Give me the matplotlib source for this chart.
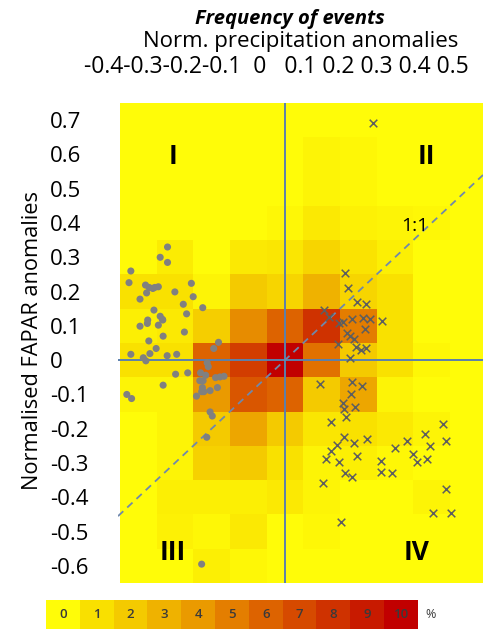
import numpy as np
import matplotlib
matplotlib.use("Agg")
import matplotlib.pyplot as plt
from matplotlib.colors import LinearSegmentedColormap, ListedColormap

plt.rcParams["font.family"] = ["Open Sans", "DejaVu Sans"]

# heatmap: frequency of events (%) per 0.1 x 0.1 bin
x_centers = [-0.4, -0.3, -0.2, -0.1, 0.0, 0.1, 0.2, 0.3, 0.4, 0.5]
y_centers = [0.7, 0.6, 0.5, 0.4, 0.3, 0.2, 0.1, 0.0, -0.1, -0.2, -0.3, -0.4, -0.5, -0.6]
freq = [
    [0.0, 0.0, 0.0, 0.0, 0.0, 0.0, 0.0, 0.0, 0.0, 0.0],
    [0.0, 0.0, 0.0, 0.0, 0.0, 0.3, 0.2, 0.0, 0.0, 0.0],
    [0.0, 0.0, 0.0, 0.0, 0.0, 0.3, 0.2, 0.0, 0.0, 0.0],
    [0.0, 0.0, 0.0, 0.0, 0.2, 0.7, 0.4, 0.3, 0.2, 0.0],
    [0.1, 0.6, 0.0, 0.7, 0.8, 1.5, 0.9, 0.5, 0.0, 0.0],
    [1.0, 1.0, 0.3, 2.0, 1.5, 3.0, 1.5, 1.0, 0.0, 0.0],
    [0.5, 0.7, 1.8, 4.5, 6.0, 8.0, 5.0, 1.0, 0.0, 0.0],
    [1.0, 1.0, 6.0, 7.5, 10.0, 5.5, 2.0, 1.0, 0.2, 0.0],
    [0.3, 0.3, 4.0, 6.5, 6.0, 2.0, 3.5, 0.3, 0.0, 0.0],
    [0.0, 0.3, 2.0, 3.5, 2.0, 0.8, 1.0, 0.7, 0.3, 0.0],
    [0.0, 0.3, 1.7, 2.0, 1.0, 0.3, 0.5, 0.2, 0.0, 0.0],
    [0.0, 0.5, 0.5, 0.5, 0.7, 0.3, 0.0, 0.0, 0.3, 0.0],
    [0.0, 0.4, 0.2, 0.7, 0.0, 0.2, 0.0, 0.0, 0.0, 0.0],
    [0.0, 0.0, 0.5, 0.2, 0.0, 0.0, 0.0, 0.0, 0.0, 0.0],
]

# events with negative precipitation anomaly (dots)
dots_x = [-0.32, -0.34, -0.32, -0.42, -0.425, -0.38, -0.37, -0.36, -0.355, -0.345,
          -0.377, -0.395, -0.30, -0.255, -0.25, -0.277, -0.268, -0.224, -0.357, -0.34,
          -0.334, -0.374, -0.333, -0.375, -0.395, -0.345, -0.274, -0.332, -0.371, -0.351,
          -0.368, -0.42, -0.386, -0.379, -0.321, -0.295, -0.194, -0.181,
          -0.298, -0.265, -0.332, -0.431, -0.418, -0.212, -0.209, -0.23, -0.216, -0.189,
          -0.177, -0.166, -0.232, -0.223, -0.225, -0.204, -0.184, -0.227, -0.221, -0.241,
          -0.204, -0.198, -0.213, -0.227]
dots_y = [0.33, 0.30, 0.285, 0.26, 0.226, 0.219, 0.212, 0.209, 0.212, 0.214,
          0.196, 0.178, 0.199, 0.224, 0.185, 0.163, 0.135, 0.153, 0.146, 0.128,
          0.119, 0.117, 0.117, 0.107, 0.099, 0.102, 0.082, 0.07, 0.056, 0.034,
          0.019, 0.017, 0.007, -0.002, 0.013, 0.017, 0.034, 0.052,
          -0.041, -0.037, -0.073, -0.1, -0.112, -0.008, -0.019, -0.037, -0.044, -0.051,
          -0.049, -0.047, -0.06, -0.06, -0.08, -0.089, -0.08, -0.092, -0.092, -0.105,
          -0.151, -0.163, -0.225, -0.595]

# events with positive precipitation anomaly (crosses)
cross_x = [0.241, 0.163, 0.173, 0.197, 0.221, 0.107, 0.121, 0.148, 0.159, 0.182,
           0.213, 0.232, 0.265, 0.218, 0.168, 0.177, 0.189, 0.144, 0.193, 0.207,
           0.220, 0.177, 0.097, 0.183, 0.209, 0.180, 0.157, 0.162, 0.191, 0.166,
           0.127, 0.431, 0.381, 0.161, 0.224, 0.332, 0.440, 0.141, 0.188, 0.395,
           0.300, 0.127, 0.111, 0.197, 0.350, 0.388, 0.147, 0.261, 0.359, 0.165,
           0.182, 0.261, 0.291, 0.104, 0.440, 0.404, 0.452, 0.154]
cross_y = [0.692, 0.253, 0.209, 0.170, 0.163, 0.146, 0.126, 0.107, 0.112, 0.120,
           0.122, 0.120, 0.114, 0.092, 0.078, 0.070, 0.063, 0.046, 0.039, 0.029,
           0.034, 0.005, -0.070, -0.065, -0.076, -0.100, -0.126, -0.143, -0.136, -0.165,
           -0.180, -0.187, -0.214, -0.225, -0.230, -0.236, -0.236, -0.248, -0.243, -0.251,
           -0.256, -0.264, -0.287, -0.280, -0.275, -0.287, -0.296, -0.294, -0.296, -0.330,
           -0.340, -0.326, -0.330, -0.358, -0.376, -0.445, -0.447, -0.473]

xtick_labels = ["-0.4", "-0.3", "-0.2", "-0.1", "0", "0.1", "0.2", "0.3", "0.4", "0.5"]
ytick_vals = [0.7, 0.6, 0.5, 0.4, 0.3, 0.2, 0.1, 0.0, -0.1, -0.2, -0.3, -0.4, -0.5, -0.6]
ytick_labels = ["0.7", "0.6", "0.5", "0.4", "0.3", "0.2", "0.1", "0",
                "-0.1", "-0.2", "-0.3", "-0.4", "-0.5", "-0.6"]

levels = list(range(11))
level_colors = ["#FFFC08", "#F9E000", "#F4CA00", "#EFB200", "#EA9A00", "#E47E00",
                "#DD6300", "#D64A00", "#CF3200", "#C81A00", "#C10000"]

cmap = LinearSegmentedColormap.from_list("freq", level_colors)

fig = plt.figure(figsize=(4.83, 6.30), dpi=100)
ax = fig.add_axes([118 / 483, 47 / 630, 365 / 483, 480 / 630])

ax.pcolormesh(x_centers, y_centers, np.array(freq), cmap=cmap, vmin=0, vmax=10,
              shading="nearest")
ax.axvline(0, color="#5B80AC", lw=1.4)
ax.axhline(0, color="#5B80AC", lw=1.4)
ax.axline((0, 0), slope=1, color="#6F88AC", lw=1.3, dashes=(4, 3))

ax.scatter(dots_x, dots_y, s=26, color="#808080", edgecolors="none", zorder=3)
ax.scatter(cross_x, cross_y, s=30, marker="x", color="#5E5E5E", linewidths=1.1, zorder=3)

ax.set_xlim(-0.455, 0.54)
ax.set_ylim(-0.65, 0.75)
for s in ax.spines.values():
    s.set_visible(False)
ax.set_xticks([])
ax.set_yticks(ytick_vals, ytick_labels, fontsize=16)
ax.tick_params(axis="y", length=0, pad=49)
for lab in ax.get_yticklabels():
    lab.set_horizontalalignment("left")

# quadrant labels
quad_kw = dict(fontsize=19, fontweight="bold", ha="center", va="center")
ax.text(-0.305, 0.595, "I", **quad_kw)
ax.text(0.385, 0.595, "II", **quad_kw)
ax.text(-0.305, -0.56, "III", **quad_kw)
ax.text(0.36, -0.56, "IV", **quad_kw)
ax.text(0.355, 0.39, "1:1", fontsize=14, ha="center", va="center")

ax.set_ylabel("Normalised FAPAR anomalies", fontsize=15.7)
ax.yaxis.set_label_coords(-0.205, 0.506)

# top labels (hand-placed axis labels as in the original)
top_line = "".join(xtick_labels[:4]) + "  " + xtick_labels[4] + "   " + " ".join(xtick_labels[5:])
fig.text(276 / 483, 1 - 67 / 630, top_line, fontsize=16.5, ha="center", va="center")
fig.text(301 / 483, 1 - 42 / 630, "Norm. precipitation anomalies", fontsize=16,
         ha="center", va="center")
fig.text(290 / 483, 1 - 19 / 630, "Frequency of events", fontsize=14.5,
         fontweight="bold", fontstyle="italic", ha="center", va="center")

# colour legend
cax = fig.add_axes([46 / 483, 1 / 630, 372 / 483, 29 / 630])
cax.imshow(np.array([levels]), cmap=ListedColormap(level_colors), vmin=-0.5, vmax=10.5,
           aspect="auto")
for i, lv in enumerate(levels):
    cax.text(i, 0, str(lv), fontsize=9.5, fontweight="semibold", color="#3A3A3A",
             ha="center", va="center")
cax.axis("off")
fig.text(425 / 483, 15 / 630, "%", fontsize=9, color="#3A3A3A", ha="left", va="center")

fig.savefig("out.png", dpi=100)
